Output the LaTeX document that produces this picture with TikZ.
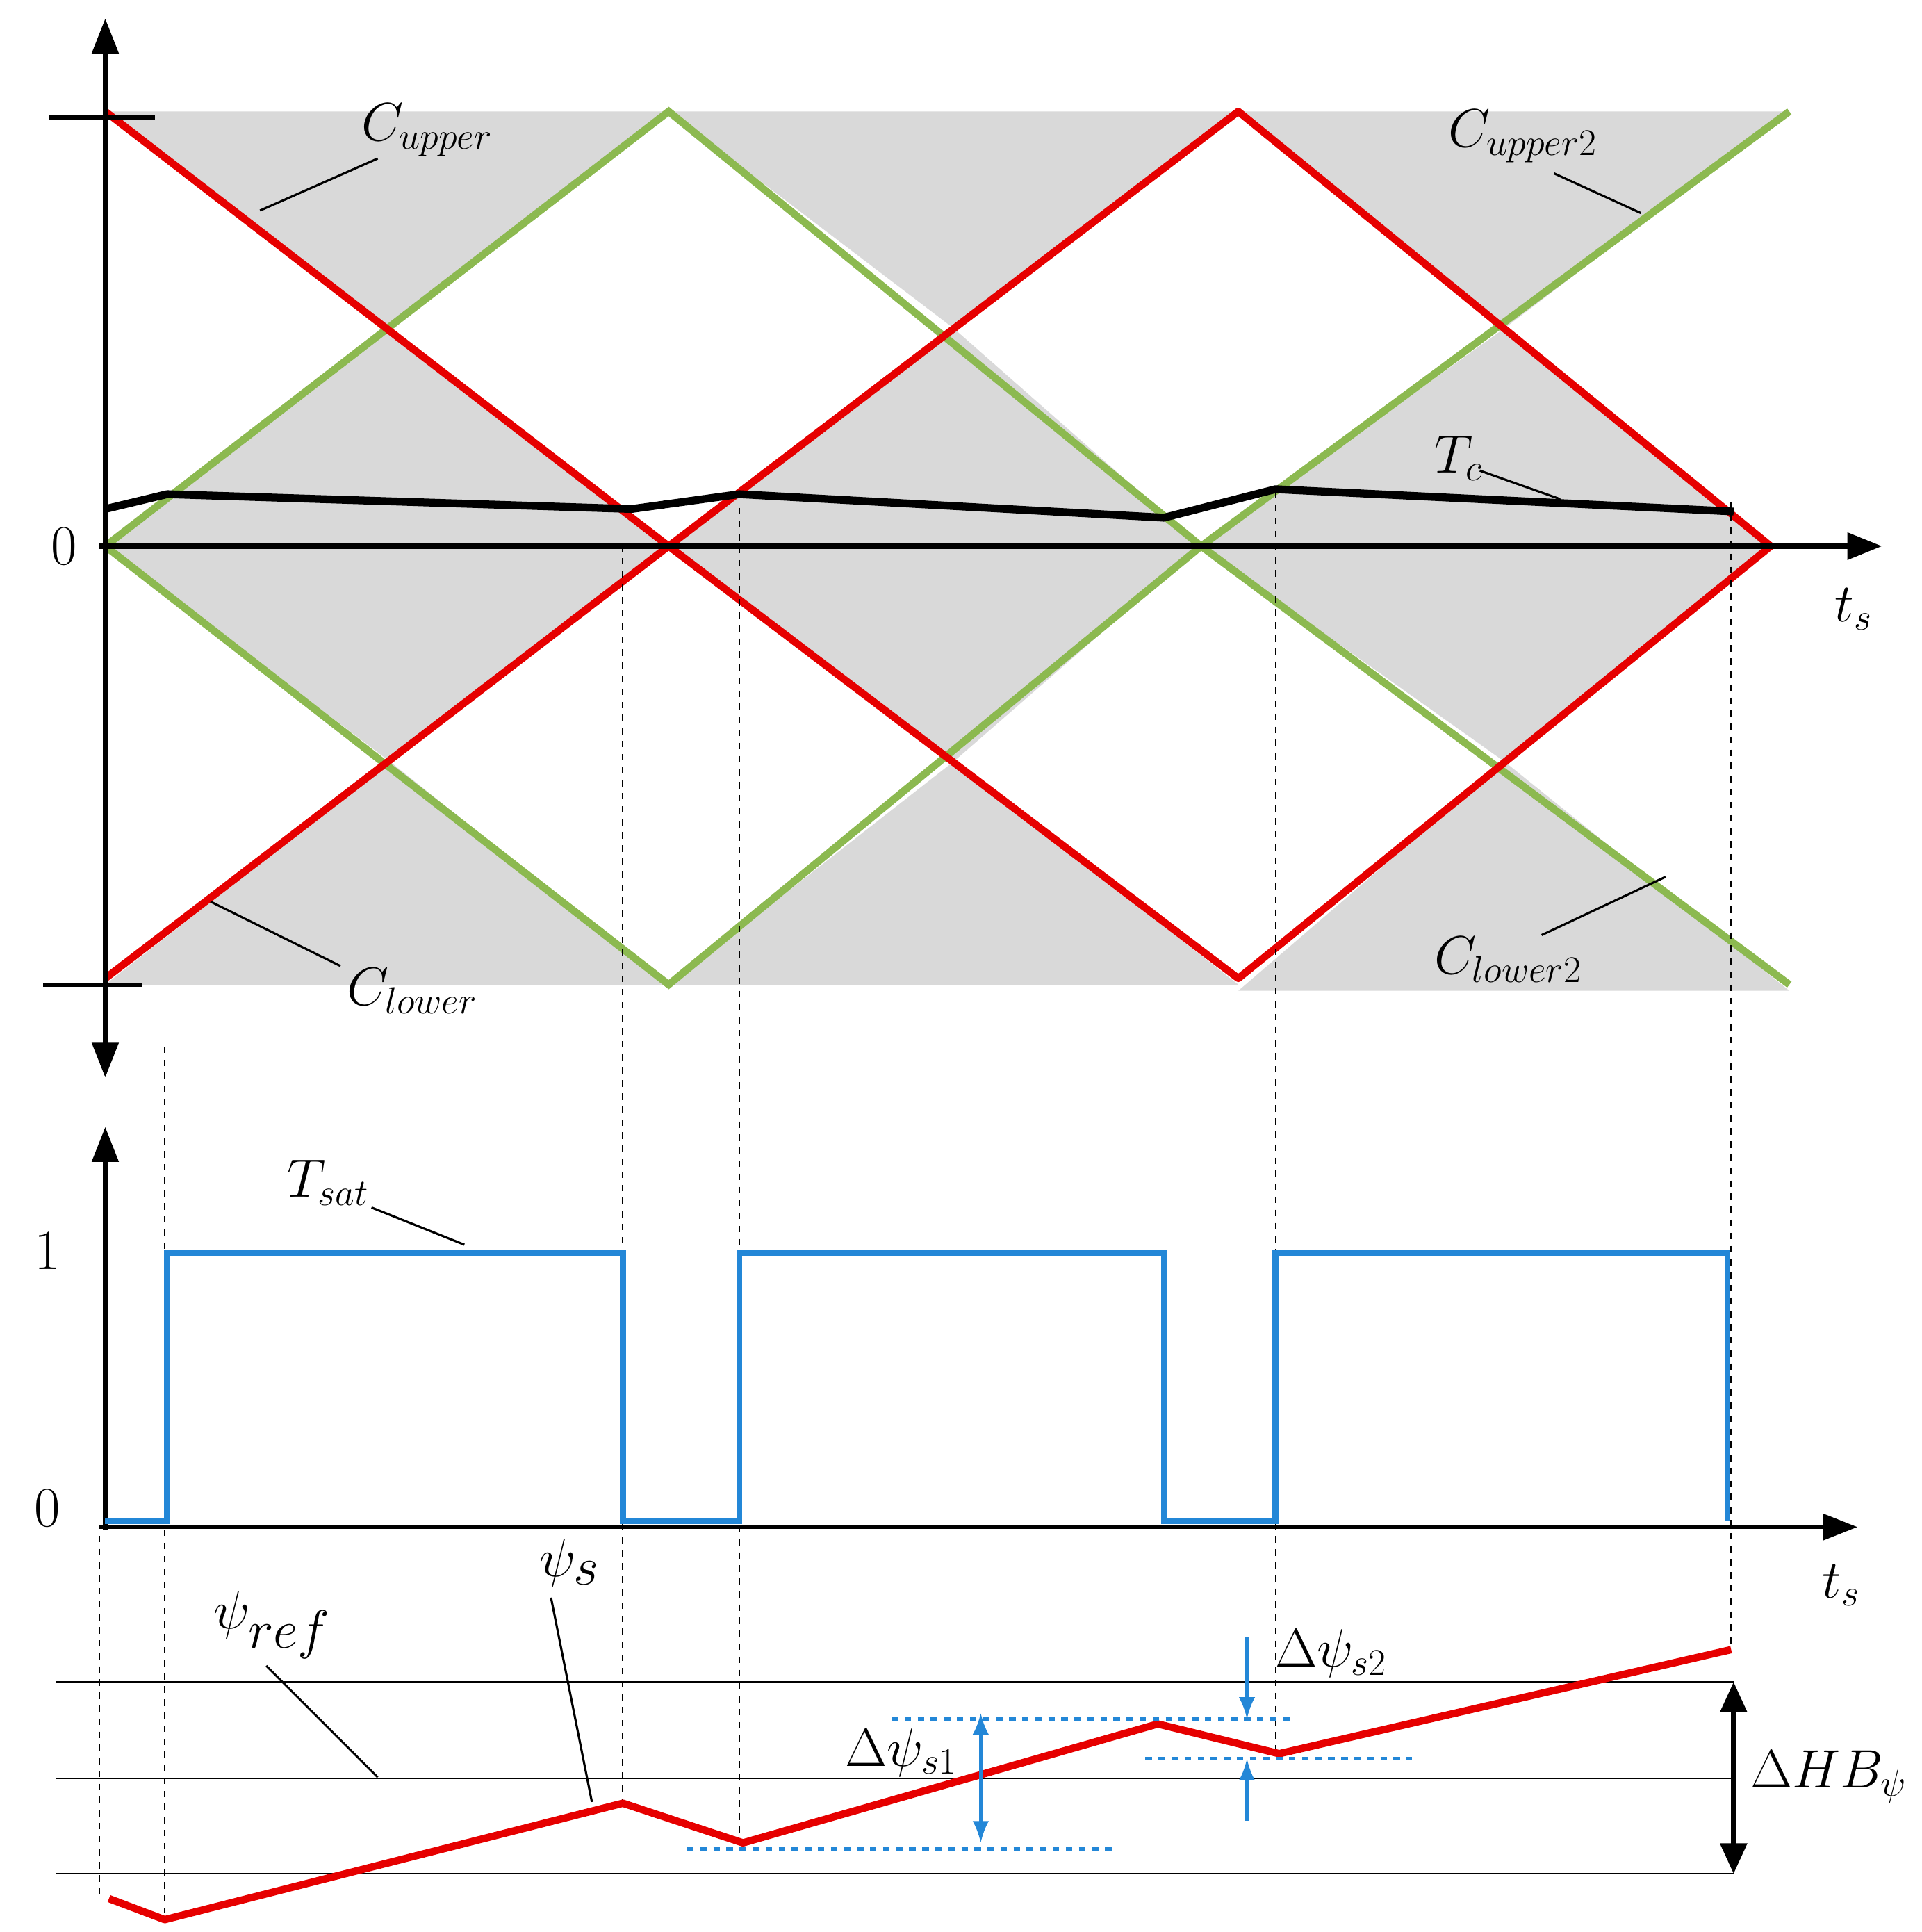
\documentclass[tikz,border=0pt]{standalone}
\usepackage{amsmath}
\usepackage{tikz}
\usetikzlibrary{arrows.meta}
\begin{document}
\begin{tikzpicture}[
    x=0.02cm, y=-0.02cm,
    every node/.style={font=\fontsize{26}{30}\selectfont},
    redl/.style={draw={rgb,255:red,230;green,0;blue,0}, line width=3.4pt, line join=round},
    greenl/.style={draw={rgb,255:red,140;green,185;blue,80}, line width=3.4pt},
    bluel/.style={draw={rgb,255:red,35;green,135;blue,215}, line width=2.8pt},
    axis/.style={draw, line width=2pt, -{Triangle[length=16pt,width=12pt]}},
    lead/.style={draw, line width=1pt},
    guide/.style={draw, dashed, line width=0.6pt},
    thin/.style={draw, line width=0.6pt},
    dots/.style={draw={rgb,255:red,35;green,135;blue,215}, dashed, line width=1.6pt},
    band/.style={fill=gray!30}
]
\useasboundingbox (0,0) rectangle (1552,1560);

% shaded hourglasses
\fill[band] (85,90) -- (540,90) -- (315,265) -- cycle;
\fill[band] (315,265) -- (85,441) -- (540,441) -- cycle;
\fill[band] (540,90) -- (1000,90) -- (770,265) -- cycle;
\fill[band] (770,265) -- (540,441) -- (970,441) -- cycle;
\fill[band] (1000,90) -- (1445,90) -- (1215,265) -- cycle;
\fill[band] (1215,265) -- (970,441) -- (1430,441) -- cycle;
\fill[band] (85,441) -- (540,441) -- (315,615) -- cycle;
\fill[band] (315,615) -- (85,795) -- (540,795) -- cycle;
\fill[band] (540,441) -- (970,441) -- (770,615) -- cycle;
\fill[band] (770,615) -- (540,795) -- (1000,795) -- cycle;
\fill[band] (970,441) -- (1430,441) -- (1215,615) -- cycle;
\fill[band] (1215,615) -- (1000,800) -- (1445,800) -- cycle;

% carriers
\draw[greenl] (85,441) -- (540,90) -- (970,441) -- (1445,795);
\draw[greenl] (85,441) -- (540,795) -- (970,441) -- (1445,90);
\draw[redl] (85,90) -- (540,441) -- (1000,790) -- (1430,441);
\draw[redl] (85,790) -- (540,441) -- (1000,90) -- (1430,441);

% torque
\draw[line width=3.6pt, line join=round] (85,411) -- (135,399) -- (510,411) -- (597,399)
    -- (940,418) -- (1030,395) -- (1400,413);

% upper axes
\draw[axis] (85,441) -- (85,15);
\draw[axis] (85,441) -- (85,870);
\draw[axis, line width=2.6pt] (80,441) -- (1520,441);
\draw[line width=2pt] (40,95) -- (125,95);
\draw[line width=2pt] (35,795) -- (115,795);
\node (zero1) at (52,441) {0};
\node (ts1) at (1497,492) {$t_s$};

% carrier labels
\node (cup) at (345,105) {$C_{upper}$};
\draw[lead] (210,170) -- (305,128);
\node (cup2) at (1230,110) {$C_{upper2}$};
\draw[lead] (1255,140) -- (1325,172);
\node (tc) at (1178,370) {$T_c$};
\draw[lead] (1195,380) -- (1260,403);
\node (clo) at (333,800) {$C_{lower}$};
\draw[lead] (170,728) -- (275,780);
\node (clo2) at (1218,775) {$C_{lower2}$};
\draw[lead] (1245,755) -- (1345,708);

% guide lines
\draw[guide] (133,845) -- (133,1545);
\draw[guide] (503,440) -- (503,1455);
\draw[guide] (597,410) -- (597,1485);
\draw[guide] (1030,397) -- (1030,1415);
\draw[guide] (1398,405) -- (1398,1330);
\draw[guide] (80,1240) -- (80,1530);

% switching signal
\draw[axis] (85,1235) -- (85,910);
\draw[axis] (80,1233) -- (1500,1233);
\node (one) at (38,1010) {1};
\node (zero2) at (38,1218) {0};
\node (ts2) at (1487,1280) {$t_s$};
\draw[bluel] (85,1228) -- (135,1228) -- (135,1012) -- (503,1012) -- (503,1228) -- (597,1228)
    -- (597,1012) -- (940,1012) -- (940,1228) -- (1030,1228) -- (1030,1012)
    -- (1395,1012) -- (1395,1228);
\node (tsat) at (265,955) {$T_{sat}$};
\draw[lead] (300,975) -- (375,1005);

% flux band
\draw[thin] (45,1358) -- (1400,1358);
\draw[thin] (45,1436) -- (1400,1436);
\draw[thin] (45,1513) -- (1400,1513);
\draw[redl] (88,1533) -- (133,1550) -- (503,1456) -- (600,1488) -- (935,1392)
    -- (1033,1416) -- (1398,1332);
\node (psiref) at (220,1312) {\fontsize{34}{38}\selectfont$\psi_{ref}$};
\draw[lead] (215,1345) -- (305,1435);
\node (psis) at (460,1262) {\fontsize{34}{38}\selectfont$\psi_s$};
\draw[lead] (445,1290) -- (478,1455);

% ripple marks
\draw[dots] (720,1388) -- (1045,1388);
\draw[dots] (555,1493) -- (900,1493);
\draw[dots] (925,1420) -- (1140,1420);
\draw[bluel, line width=1.4pt, {Latex[length=10pt]}-{Latex[length=10pt]}] (792,1383) -- (792,1488);
\node (ds1) at (728,1415) {$\Delta\psi_{s1}$};
\draw[bluel, line width=1.4pt, -{Latex[length=10pt]}] (1007,1322) -- (1007,1388);
\draw[bluel, line width=1.4pt, -{Latex[length=10pt]}] (1007,1470) -- (1007,1420);
\node (ds2) at (1075,1335) {$\Delta\psi_{s2}$};
\draw[line width=2.4pt, {Triangle[length=14pt,width=12pt]}-{Triangle[length=14pt,width=12pt]}] (1400,1358) -- (1400,1513);
\node (dhb) at (1477,1435) {$\Delta HB_{\psi}$};
\end{tikzpicture}
\end{document}
